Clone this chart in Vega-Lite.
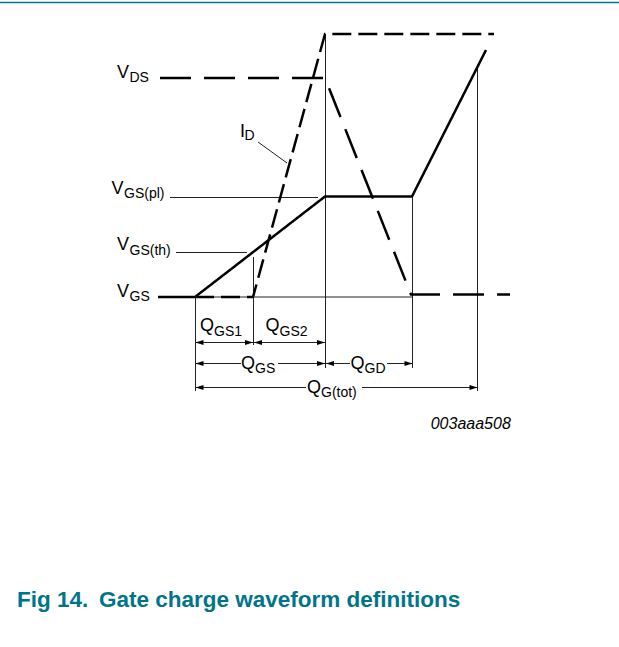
{
  "$schema": "https://vega.github.io/schema/vega-lite/v6.json",
  "width": 619,
  "height": 647,
  "padding": 0,
  "autosize": {"type": "none"},
  "background": "white",
  "config": {"view": {"stroke": null}, "axis": {"disable": true}},
  "datasets": {
    "header": [{"x": 0, "y": 2.5, "x2": 619, "y2": 2.5}],
    "thin": [
      {"x": 158, "y": 297, "x2": 412, "y2": 297},
      {"x": 325.5, "y": 34, "x2": 325.5, "y2": 368},
      {"x": 195.5, "y": 297, "x2": 195.5, "y2": 391},
      {"x": 253.5, "y": 257, "x2": 253.5, "y2": 345},
      {"x": 412.5, "y": 196, "x2": 412.5, "y2": 368},
      {"x": 477.5, "y": 68, "x2": 477.5, "y2": 391},
      {"x": 170, "y": 197.5, "x2": 318, "y2": 197.5},
      {"x": 176, "y": 252.5, "x2": 247, "y2": 252.5},
      {"x": 258, "y": 142, "x2": 287, "y2": 163},
      {"x": 195.5, "y": 342.5, "x2": 253.5, "y2": 342.5},
      {"x": 253.5, "y": 342.5, "x2": 325.5, "y2": 342.5},
      {"x": 195.5, "y": 363.5, "x2": 241, "y2": 363.5},
      {"x": 278, "y": 363.5, "x2": 325.5, "y2": 363.5},
      {"x": 325.5, "y": 363.5, "x2": 350, "y2": 363.5},
      {"x": 387, "y": 363.5, "x2": 412.5, "y2": 363.5},
      {"x": 195.5, "y": 387.5, "x2": 306, "y2": 387.5},
      {"x": 362, "y": 387.5, "x2": 477.5, "y2": 387.5}
    ],
    "paths": [
      {"series": "VGS", "order": 1, "x": 158, "y": 297},
      {"series": "VGS", "order": 2, "x": 195, "y": 297},
      {"series": "VGS", "order": 3, "x": 325, "y": 196.5},
      {"series": "VGS", "order": 4, "x": 412, "y": 196.5},
      {"series": "VGS", "order": 5, "x": 486, "y": 50},
      {"series": "VDS", "order": 1, "x": 160, "y": 78},
      {"series": "VDS", "order": 2, "x": 325, "y": 78},
      {"series": "VDS", "order": 3, "x": 411, "y": 294.5},
      {"series": "VDS", "order": 4, "x": 510, "y": 294.5},
      {"series": "ID", "order": 1, "x": 195, "y": 297},
      {"series": "ID", "order": 2, "x": 253, "y": 297},
      {"series": "ID", "order": 3, "x": 325, "y": 34},
      {"series": "ID", "order": 4, "x": 494, "y": 34}
    ],
    "arrows": [
      {"x": 195.5, "y": 342.5, "dir": "left"},
      {"x": 253, "y": 342.5, "dir": "right"},
      {"x": 254, "y": 342.5, "dir": "left"},
      {"x": 325, "y": 342.5, "dir": "right"},
      {"x": 195.5, "y": 363.5, "dir": "left"},
      {"x": 325, "y": 363.5, "dir": "right"},
      {"x": 326, "y": 363.5, "dir": "left"},
      {"x": 412.5, "y": 363.5, "dir": "right"},
      {"x": 195.5, "y": 387.5, "dir": "left"},
      {"x": 477.5, "y": 387.5, "dir": "right"}
    ],
    "labels": [
      {"kind": "main", "text": "V", "x": 117, "y": 78},
      {"kind": "sub", "text": "DS", "x": 129.5, "y": 82},
      {"kind": "main", "text": "I", "x": 240, "y": 136.5},
      {"kind": "sub", "text": "D", "x": 244.5, "y": 140},
      {"kind": "main", "text": "V", "x": 111.5, "y": 194},
      {"kind": "sub", "text": "GS(pl)", "x": 124, "y": 198},
      {"kind": "main", "text": "V", "x": 117, "y": 250},
      {"kind": "sub", "text": "GS(th)", "x": 129.5, "y": 254.5},
      {"kind": "main", "text": "V", "x": 117, "y": 296.5},
      {"kind": "sub", "text": "GS", "x": 129.5, "y": 300.5},
      {"kind": "main", "text": "Q", "x": 200, "y": 331},
      {"kind": "sub", "text": "GS1", "x": 214, "y": 335.5},
      {"kind": "main", "text": "Q", "x": 265.5, "y": 331},
      {"kind": "sub", "text": "GS2", "x": 279.5, "y": 335.5},
      {"kind": "main", "text": "Q", "x": 241, "y": 368.5},
      {"kind": "sub", "text": "GS", "x": 255, "y": 373},
      {"kind": "main", "text": "Q", "x": 350.5, "y": 368.5},
      {"kind": "sub", "text": "GD", "x": 364.5, "y": 373},
      {"kind": "main", "text": "Q", "x": 307, "y": 392.5},
      {"kind": "sub", "text": "G(tot)", "x": 321, "y": 396.5},
      {"kind": "code", "text": "003aaa508", "x": 430.7, "y": 429.3},
      {"kind": "caption", "text": "Fig 14.", "x": 17, "y": 606.5},
      {"kind": "caption", "text": "Gate charge waveform definitions", "x": 99, "y": 606.5}
    ]
  },
  "layer": [
    {
      "data": {"name": "header"},
      "mark": {"type": "rule", "color": "#00758A", "strokeWidth": 1.5},
      "encoding": {
        "x": {"field": "x", "type": "quantitative", "scale": {"domain": [0, 619], "range": [0, 619], "nice": false, "zero": false}},
        "y": {"field": "y", "type": "quantitative", "scale": {"domain": [0, 647], "range": [0, 647], "nice": false, "zero": false}},
        "x2": {"field": "x2"},
        "y2": {"field": "y2"}
      }
    },
    {
      "data": {"name": "thin"},
      "mark": {"type": "rule", "color": "#222222", "strokeWidth": 1},
      "encoding": {
        "x": {"field": "x", "type": "quantitative"},
        "y": {"field": "y", "type": "quantitative"},
        "x2": {"field": "x2"},
        "y2": {"field": "y2"}
      }
    },
    {
      "data": {"name": "paths"},
      "mark": {"type": "line", "color": "#000000", "strokeWidth": 2.5, "strokeJoin": "miter"},
      "encoding": {
        "x": {"field": "x", "type": "quantitative"},
        "y": {"field": "y", "type": "quantitative"},
        "order": {"field": "order", "type": "quantitative"},
        "strokeDash": {"field": "series", "type": "nominal", "scale": {"domain": ["VGS", "VDS", "ID"], "range": [[1, 0], [31, 13], [19, 7]]}, "legend": null}
      }
    },
    {
      "data": {"name": "arrows"},
      "mark": {"type": "point", "filled": true, "opacity": 1, "fill": "#000000", "color": "#000000", "size": 64, "strokeWidth": 0},
      "encoding": {
        "x": {"field": "x", "type": "quantitative"},
        "y": {"field": "y", "type": "quantitative"},
        "shape": {"field": "dir", "type": "nominal", "scale": {"domain": ["left", "right"], "range": ["M0,0L2,-0.6L2,0.6Z", "M0,0L-2,-0.6L-2,0.6Z"]}, "legend": null}
      }
    },
    {
      "data": {"name": "labels"},
      "transform": [{"filter": "datum.kind === 'main'"}],
      "mark": {"type": "text", "align": "left", "baseline": "alphabetic", "font": "Arial, Liberation Sans, sans-serif", "fontSize": 18, "color": "#000000"},
      "encoding": {
        "x": {"field": "x", "type": "quantitative"},
        "y": {"field": "y", "type": "quantitative"},
        "text": {"field": "text"}
      }
    },
    {
      "data": {"name": "labels"},
      "transform": [{"filter": "datum.kind === 'sub'"}],
      "mark": {"type": "text", "align": "left", "baseline": "alphabetic", "font": "Arial, Liberation Sans, sans-serif", "fontSize": 14, "color": "#000000"},
      "encoding": {
        "x": {"field": "x", "type": "quantitative"},
        "y": {"field": "y", "type": "quantitative"},
        "text": {"field": "text"}
      }
    },
    {
      "data": {"name": "labels"},
      "transform": [{"filter": "datum.kind === 'code'"}],
      "mark": {"type": "text", "align": "left", "baseline": "alphabetic", "font": "Arial, Liberation Sans, sans-serif", "fontSize": 16, "fontStyle": "italic", "color": "#000000"},
      "encoding": {
        "x": {"field": "x", "type": "quantitative"},
        "y": {"field": "y", "type": "quantitative"},
        "text": {"field": "text"}
      }
    },
    {
      "data": {"name": "labels"},
      "transform": [{"filter": "datum.kind === 'caption'"}],
      "mark": {"type": "text", "align": "left", "baseline": "alphabetic", "font": "Arial, Liberation Sans, sans-serif", "fontSize": 22.5, "fontWeight": "bold", "color": "#00758A"},
      "encoding": {
        "x": {"field": "x", "type": "quantitative"},
        "y": {"field": "y", "type": "quantitative"},
        "text": {"field": "text"}
      }
    }
  ]
}
